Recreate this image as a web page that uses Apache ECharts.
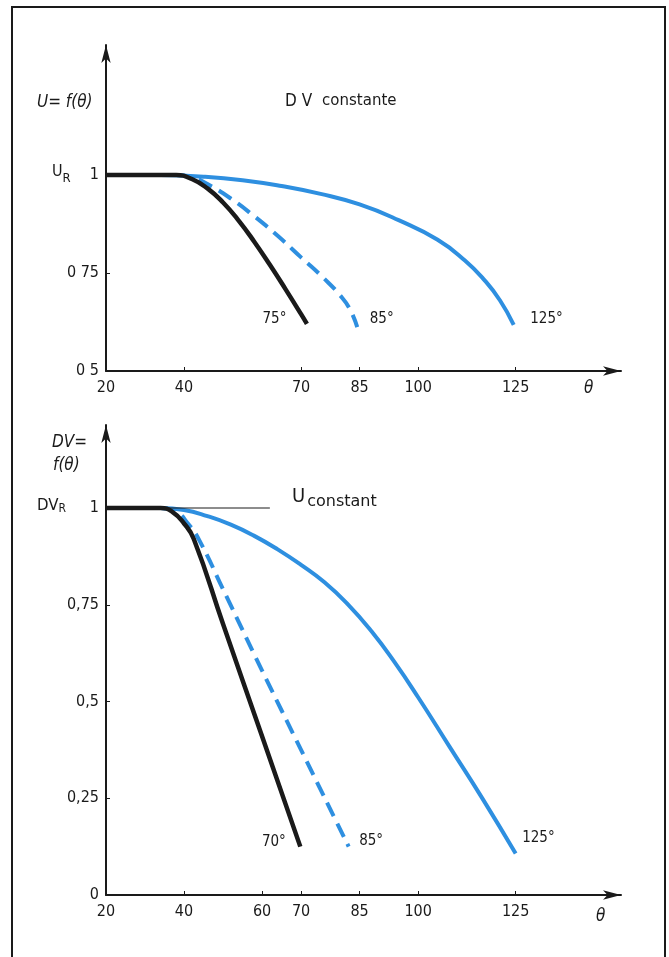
<!DOCTYPE html>
<html>
<head>
<meta charset="utf-8">
<script src="https://cdn.jsdelivr.net/npm/echarts@6/dist/echarts.min.js"></script>
<style>
  html, body { margin: 0; padding: 0; background: #fff; }
  #chart { width: 669px; height: 957px; }
</style>
</head>
<body>
<div id="chart"></div>
<script>
// ---- Upper panel: U = f(theta) at constant DV ----
const thetaU75  = [20, 38, 42, 46, 50, 54, 58, 62, 66, 70, 71.5];
const valueU75  = [1, 1, 0.99, 0.966, 0.93, 0.884, 0.83, 0.771, 0.709, 0.645, 0.62];
const thetaU85  = [38, 42, 46, 52, 58, 64, 70, 76, 80, 82.5, 84.4];
const valueU85  = [1, 0.995, 0.977, 0.94, 0.895, 0.845, 0.79, 0.735, 0.693, 0.658, 0.612];
const thetaU125 = [34, 45, 55, 65, 75, 85, 95, 105, 112, 117, 121, 124.5];
const valueU125 = [1, 0.996, 0.987, 0.972, 0.952, 0.925, 0.885, 0.835, 0.782, 0.732, 0.68, 0.618];

// ---- Lower panel: DV = f(theta) at constant U ----
const thetaDV70  = [20, 34, 37, 40, 42.5, 50, 60, 69.8];
const valueDV70  = [1, 1, 0.99, 0.96, 0.92, 0.70, 0.41, 0.125];
const thetaDV85  = [34, 38, 41, 44, 50, 60, 70, 82.2];
const valueDV85  = [1, 0.99, 0.96, 0.915, 0.79, 0.58, 0.375, 0.125];
const thetaDV125 = [34, 40, 46, 52, 58, 64, 70, 76, 82, 88, 94, 100, 108, 116.5, 125];
const valueDV125 = [1, 0.995, 0.979, 0.957, 0.928, 0.893, 0.853, 0.808, 0.751, 0.682, 0.601, 0.511, 0.384, 0.249, 0.107];

// ---- Curve names and tick labels ----
const curveNamesU  = ['75°', '85°', '125°'];
const curveNamesDV = ['70°', '85°', '125°'];
const xTicksU  = [20, 40, 70, 85, 100, 125];
const xTicksDV = [20, 40, 60, 70, 85, 100, 125];
const yTicksU  = [0.5, 0.75, 1];
const yTextU   = ['0 5', '0 75', '1'];
const yTicksDV = [0, 0.25, 0.5, 0.75, 1];
const yTextDV  = ['0', '0,25', '0,5', '0,75', '1'];

const FONT = "'DejaVu Sans Condensed', 'Liberation Sans Narrow', sans-serif";
const WIDE = "'DejaVu Sans', sans-serif";
const INK = '#1a1a1a';
const BLUE = '#2e8fe0';

const pairs = (xs, ys) => xs.map((x, i) => [x, ys[i]]);

function xAxisFor(grid, ticks) {
  return {
    type: 'value', gridIndex: grid, min: 20, max: 152,
    axisLine: { show: true, symbol: ['none', 'arrow'], symbolSize: [7, 18],
                lineStyle: { color: INK, width: 2 } },
    axisTick: { show: true, inside: true, length: 4, lineStyle: { color: INK, width: 1 },
                customValues: ticks.filter(t => t !== 20) },
    axisLabel: { customValues: ticks, margin: 9, fontSize: 16, color: INK, fontFamily: FONT },
    splitLine: { show: false }
  };
}
function yAxisFor(grid, min, max, ticks, texts) {
  return {
    type: 'value', gridIndex: grid, min: min, max: max,
    axisLine: { show: true, symbol: ['none', 'arrow'], symbolSize: [7, 18],
                lineStyle: { color: INK, width: 2 } },
    axisTick: { show: true, inside: true, length: 4, lineStyle: { color: INK, width: 1 },
                customValues: ticks.filter(t => t !== min && t !== 1) },
    axisLabel: { customValues: ticks, margin: 7, fontSize: 16, color: INK, fontFamily: FONT,
                 formatter: v => { const i = ticks.indexOf(+v.toFixed(2)); return i >= 0 ? texts[i] : ''; } },
    splitLine: { show: false }
  };
}

function curve(grid, xs, ys, color, dashed, width, name, pos, dist, dy) {
  const data = pairs(xs, ys);
  return {
    type: 'line', xAxisIndex: grid, yAxisIndex: grid, data: data,
    showSymbol: false, smooth: 0.5, silent: true,
    lineStyle: { color: color, width: width, type: dashed ? [15, 8] : 'solid', cap: 'butt' },
    markPoint: {
      symbol: 'circle', symbolSize: 1, itemStyle: { color: 'rgba(0,0,0,0)' }, silent: true,
      animation: false,
      data: [{ coord: data[data.length - 1],
               label: { show: true, position: pos, distance: dist, offset: [0, dy],
                        formatter: name, fontSize: 15, color: INK, fontFamily: FONT } }]
    }
  };
}

const chart = echarts.init(document.getElementById('chart'), null, { renderer: 'canvas' });
chart.setOption({
  animation: false,
  backgroundColor: '#fff',
  grid: [
    { left: 106, right: 48, top: 45, bottom: 586 },
    { left: 106, right: 48, top: 425, bottom: 62 }
  ],
  xAxis: [ xAxisFor(0, xTicksU), xAxisFor(1, xTicksDV) ],
  yAxis: [ yAxisFor(0, 0.5, 1.332, yTicksU, yTextU), yAxisFor(1, 0, 1.2145, yTicksDV, yTextDV) ],
  series: [
    curve(0, thetaU125, valueU125, BLUE, false, 4, curveNamesU[2], 'right', 16, -6),
    curve(0, thetaU85,  valueU85,  BLUE, true,  4, curveNamesU[1], 'right', 12, -8),
    curve(0, thetaU75,  valueU75,  INK,  false, 4.5, curveNamesU[0], 'left', 20, -5),
    curve(1, thetaDV125, valueDV125, BLUE, false, 4, curveNamesDV[2], 'right', 6, -15),
    curve(1, thetaDV85,  valueDV85,  BLUE, true,  4, curveNamesDV[1], 'right', 10, -6),
    curve(1, thetaDV70,  valueDV70,  INK,  false, 4.5, curveNamesDV[0], 'left', 14, -5),
    // thin reference line at DV_R = 1
    { type: 'line', xAxisIndex: 1, yAxisIndex: 1, data: [[20, 1], [62, 1]], showSymbol: false,
      silent: true, lineStyle: { color: INK, width: 1 } }
  ],
  graphic: [
    { type: 'rect', shape: { x: 12, y: 7, width: 653, height: 970 },
      style: { fill: 'none', stroke: INK, lineWidth: 2 }, silent: true },
    { type: 'text', left: 37, top: 94,
      style: { text: 'U= f(θ)', font: 'italic 17px ' + FONT, fill: INK } },
    { type: 'text', left: 285, top: 93,
      style: { text: '{a|D V}   {b|constante}', fill: INK,
               rich: { a: { fontSize: 17, fontFamily: FONT, fill: INK },
                       b: { fontSize: 15, fontFamily: WIDE, fill: INK } } } },
    { type: 'text', left: 52, top: 164,
      style: { text: '{a|U}{b|R}', fill: INK,
               rich: { a: { fontSize: 16, fontFamily: FONT, fill: INK, verticalAlign: 'top' },
                       b: { fontSize: 13, fontFamily: FONT, fill: INK, padding: [8, 0, 0, 0] } } } },
    { type: 'text', left: 584, top: 380,
      style: { text: 'θ', font: 'italic 17px ' + FONT, fill: INK } },
    { type: 'text', left: 52, top: 434,
      style: { text: 'DV=', font: 'italic 17px ' + FONT, fill: INK } },
    { type: 'text', left: 53, top: 457,
      style: { text: 'f(θ)', font: 'italic 17px ' + FONT, fill: INK } },
    { type: 'text', left: 37, top: 499,
      style: { text: '{a|DV}{b|R}', fill: INK,
               rich: { a: { fontSize: 15, fontFamily: WIDE, fill: INK },
                       b: { fontSize: 12, fontFamily: FONT, fill: INK, padding: [5, 0, 0, 0] } } } },
    { type: 'text', left: 292, top: 487,
      style: { text: '{a|U}{b|constant}', fill: INK,
               rich: { a: { fontSize: 20, fontFamily: FONT, fill: INK },
                       b: { fontSize: 16, fontFamily: WIDE, fill: INK, padding: [9, 0, 0, 2] } } } },
    { type: 'text', left: 596, top: 908,
      style: { text: 'θ', font: 'italic 17px ' + FONT, fill: INK } }
  ]
});
</script>
</body>
</html>
